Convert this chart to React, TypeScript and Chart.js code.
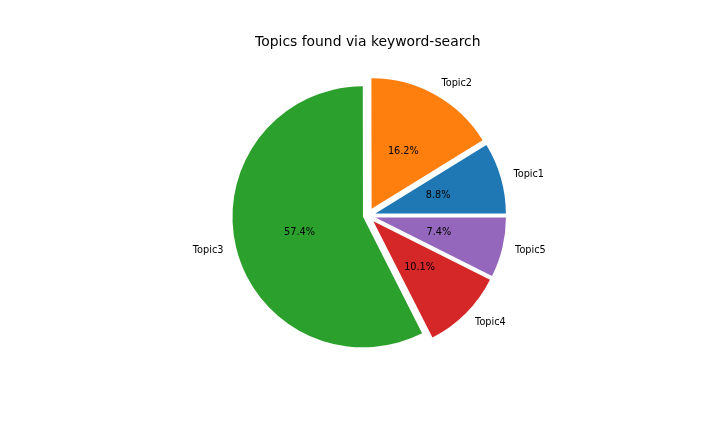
import React, { useEffect, useRef } from "react";
import { Chart, registerables } from "chart.js";

Chart.register(...registerables);

const categories = ["Topic1", "Topic2", "Topic3", "Topic4", "Topic5"];
const shares = [8.8, 16.2, 57.4, 10.1, 7.4];
const explode = [0.06, 0.06, 0.038, 0.06, 0.06];
const colors = ["#1f77b4", "#ff7f0e", "#2ca02c", "#d62728", "#9467bd"];
const titleText = "Topics found via keyword-search";

const FONT = '"DejaVu Sans", "Liberation Sans", sans-serif';
const RADIUS = 130.5;

// matplotlib draws counter-clockwise from 3 o'clock; Chart.js draws clockwise,
// so feed the slices in reverse order starting at 3 o'clock.
const order = categories.map((_, i) => categories.length - 1 - i);

const explodePlugin = {
  id: "explodeSlices",
  afterDatasetUpdate(chart: any, args: any) {
    const meta = args.meta;
    const ex: number[] = chart.options.plugins.explodeSlices.values;
    meta.data.forEach((arc: any, i: number) => {
      const mid = (arc.startAngle + arc.endAngle) / 2;
      const d = (ex[i] || 0) * arc.outerRadius;
      arc.x += Math.cos(mid) * d;
      arc.y += Math.sin(mid) * d;
    });
  },
};

const labelPlugin = {
  id: "pieLabels",
  afterDatasetsDraw(chart: any) {
    const ctx = chart.ctx;
    const meta = chart.getDatasetMeta(0);
    const labels: string[] = chart.data.labels;
    const vals: number[] = chart.data.datasets[0].data;
    ctx.save();
    ctx.fillStyle = "#000000";
    ctx.font = `9.72px ${FONT}`;
    ctx.textBaseline = "middle";
    meta.data.forEach((arc: any, i: number) => {
      const mid = (arc.startAngle + arc.endAngle) / 2;
      const r = arc.outerRadius;
      const cx = Math.cos(mid);
      const cy = Math.sin(mid);
      const lx = arc.x + cx * r * 1.1;
      const ly = arc.y + cy * r * 1.1;
      ctx.textAlign = cx > 0 ? "left" : "right";
      ctx.fillText(labels[i], lx, ly);
      const px = arc.x + cx * r * 0.5;
      const py = arc.y + cy * r * 0.5;
      ctx.textAlign = "center";
      ctx.fillText(vals[i].toFixed(1) + "%", px, py);
    });
    ctx.restore();
  },
};

export default function App() {
  const canvasRef = useRef<HTMLCanvasElement | null>(null);

  useEffect(() => {
    document.body.style.margin = "0";
    const canvas = canvasRef.current;
    if (!canvas) return;
    const chart = new Chart(canvas, {
      type: "pie",
      data: {
        labels: order.map((i) => categories[i]),
        datasets: [
          {
            data: order.map((i) => shares[i]),
            backgroundColor: order.map((i) => colors[i]),
            borderWidth: 0,
            radius: RADIUS,
          } as any,
        ],
      },
      options: {
        animation: false,
        responsive: false,
        maintainAspectRatio: false,
        rotation: 90,
        layout: { padding: { left: 15.6, right: 0, top: 0, bottom: 51.3 } },
        events: [],
        plugins: {
          legend: { display: false },
          tooltip: { enabled: false },
          title: {
            display: true,
            text: titleText,
            color: "#000000",
            font: { family: FONT, size: 13.9, weight: "normal" },
            padding: { top: 34, bottom: 0 },
          },
          explodeSlices: { values: order.map((i) => explode[i]) },
        } as any,
      },
      plugins: [explodePlugin, labelPlugin],
    });
    return () => chart.destroy();
  }, []);

  return (
    <div style={{ width: 720, height: 432, position: "relative" }}>
      <canvas ref={canvasRef} width={720} height={432} style={{ width: 720, height: 432 }} />
    </div>
  );
}
